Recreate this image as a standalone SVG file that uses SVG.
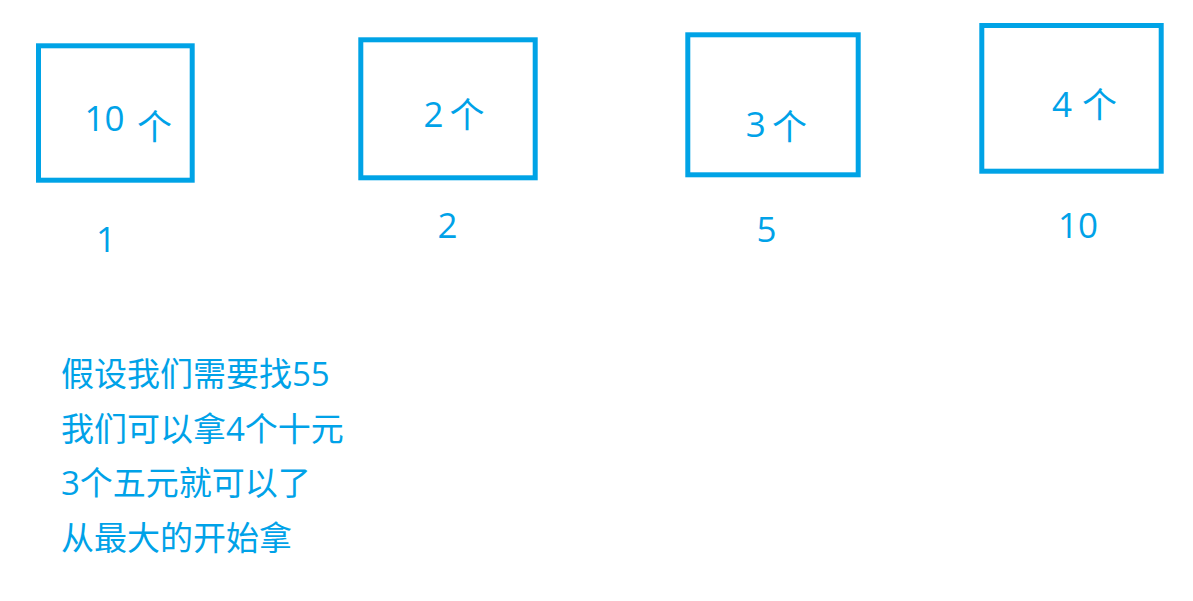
<svg xmlns="http://www.w3.org/2000/svg" width="1193" height="601" viewBox="0 0 1193 601">
<style>
.box{fill:none;stroke:#00a3e6;stroke-width:5}
.t{fill:#00a2e8;font-family:"Open Sans","Noto Sans CJK SC",sans-serif;font-size:35px}
.n{fill:#00a2e8;font-family:"Open Sans","Noto Sans CJK SC",sans-serif;font-size:33px}
</style>
<rect width="1193" height="601" fill="#ffffff"/>
<g id="node-1">
<rect class="box" x="38.5" y="45.8" width="153.7" height="134.4"/>
<text class="t"><tspan x="84.5" y="131">10</tspan><tspan x="137" y="140">个</tspan></text>
<text class="t" x="96" y="252">1</text>
</g>
<g id="node-2">
<rect class="box" x="360.8" y="39.8" width="174.4" height="138"/>
<text class="t"><tspan x="423.5" y="126.5">2</tspan><tspan x="449.5" y="128">个</tspan></text>
<text class="t" x="437.5" y="238.3">2</text>
</g>
<g id="node-5">
<rect class="box" x="687.8" y="34.8" width="170.4" height="140"/>
<text class="t"><tspan x="745.8" y="136.7">3</tspan><tspan x="772" y="139.5">个</tspan></text>
<text class="t" x="756.5" y="241.7">5</text>
</g>
<g id="node-10">
<rect class="box" x="981.8" y="25.5" width="179.4" height="145.7"/>
<text class="t"><tspan x="1052" y="116.7">4</tspan><tspan x="1082" y="117.5">个</tspan></text>
<text class="t" x="1058" y="238.3">10</text>
</g>
<g id="connectors"></g>
<g id="note">
<text class="n" x="61" y="386">假设我们需要找55</text>
<text class="n" x="61" y="440.5">我们可以拿4个十元</text>
<text class="n" x="61" y="495">3个五元就可以了</text>
<text class="n" x="61" y="549.5">从最大的开始拿</text>
</g>
</svg>
